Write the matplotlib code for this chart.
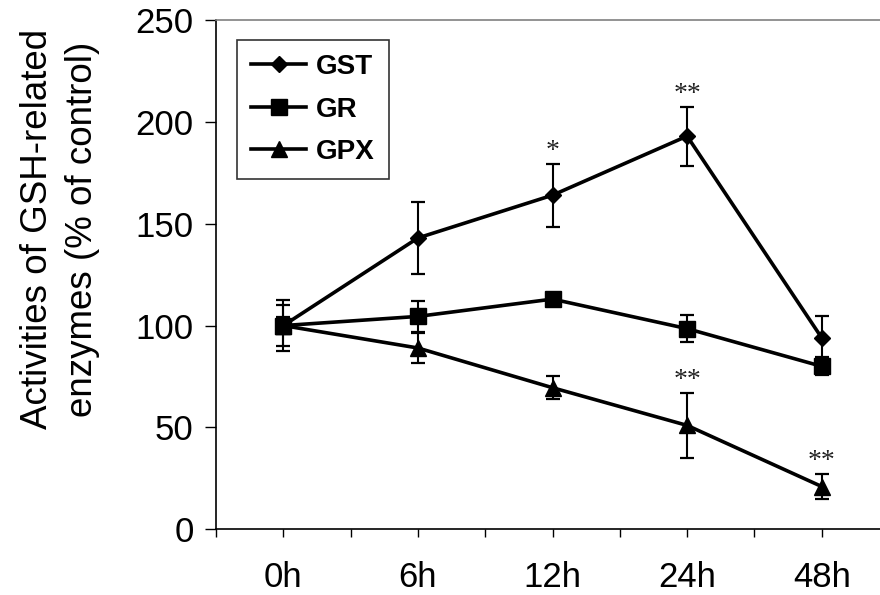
import numpy as np
import matplotlib
matplotlib.use("Agg")
import matplotlib.pyplot as plt
from matplotlib.ticker import FixedLocator

plt.rcParams['font.family'] = ['Liberation Sans', 'DejaVu Sans']

time_labels = ["0h", "6h", "12h", "24h", "48h"]

gst = [100, 143, 164, 193, 94]
gst_err = [12.5, 17.5, 15.5, 14.5, 10.5]
gst_stars = ["", "", "*", "**", ""]

gr = [100, 104.5, 113, 98.5, 80]
gr_err = [4, 7.5, 3, 6.5, 4.5]
gr_stars = ["", "", "", "", ""]

gpx = [100, 89, 69.5, 51, 21]
gpx_err = [10, 7.5, 5.7, 16, 6]
gpx_stars = ["", "", "", "**", "**"]

fig = plt.figure(figsize=(8.8, 5.95), dpi=100)
ax = fig.add_axes([216 / 880, 1 - 529.3 / 595, 673 / 880, 509.3 / 595])

x = np.arange(len(time_labels))
series = [
    ("GST", gst, gst_err, gst_stars, "D", 8.5),
    ("GR", gr, gr_err, gr_stars, "s", 11),
    ("GPX", gpx, gpx_err, gpx_stars, "^", 12),
]
handles = []
for name, vals, errs, stars, mk, ms in series:
    ax.errorbar(x, vals, yerr=errs, fmt="none", ecolor="black",
                elinewidth=1.5, capsize=5.3, capthick=1.6, zorder=2)
    h, = ax.plot(x, vals, color="black", lw=2.6, marker=mk, ms=ms,
                 mfc="black", mec="black", label=name, zorder=3)
    handles.append(h)
    for xi, v, e, s in zip(x, vals, errs, stars):
        if s:
            ax.annotate(s, (xi, v + e), xytext=(0, 0), textcoords="offset points",
                        ha="center", va="bottom", fontsize=20, color="#222222",
                        family="Liberation Serif")

ax.set_xlim(-0.5, 4.5)
ax.set_ylim(0, 250)
ax.set_yticks(np.arange(0, 251, 50))
ax.set_xticks(x)
ax.set_xticklabels(time_labels)
ax.xaxis.set_minor_locator(FixedLocator(np.arange(-0.5, 4.6, 1.0)))
ax.tick_params(axis="x", which="both", direction="out", length=6, width=1,
               color="black", labelsize=25, pad=17)
ax.tick_params(axis="y", direction="out", length=8, width=1, labelsize=25, pad=8)

for side in ["left", "bottom"]:
    ax.spines[side].set_color("black")
    ax.spines[side].set_linewidth(1.2)
for side in ["top", "right"]:
    ax.spines[side].set_color("#808080")
    ax.spines[side].set_linewidth(1.2)

fig.text(60 / 880, 1 - 229 / 595, "Activities of GSH-related\nenzymes (% of control)",
         rotation=90, ha="center", va="center", multialignment="center",
         fontsize=26.5, linespacing=1.4)

leg = ax.legend(handles=handles, loc="upper left",
                bbox_to_anchor=((237 - 216) / 673, (529.3 - 40) / 509.3),
                borderaxespad=0, frameon=True, fancybox=False, edgecolor="black",
                prop={"weight": "bold", "size": 20}, handlelength=2.0,
                handletextpad=0.35, labelspacing=0.6, borderpad=0.5)
leg.get_frame().set_linewidth(1.2)

fig.savefig("out.png", dpi=100)
